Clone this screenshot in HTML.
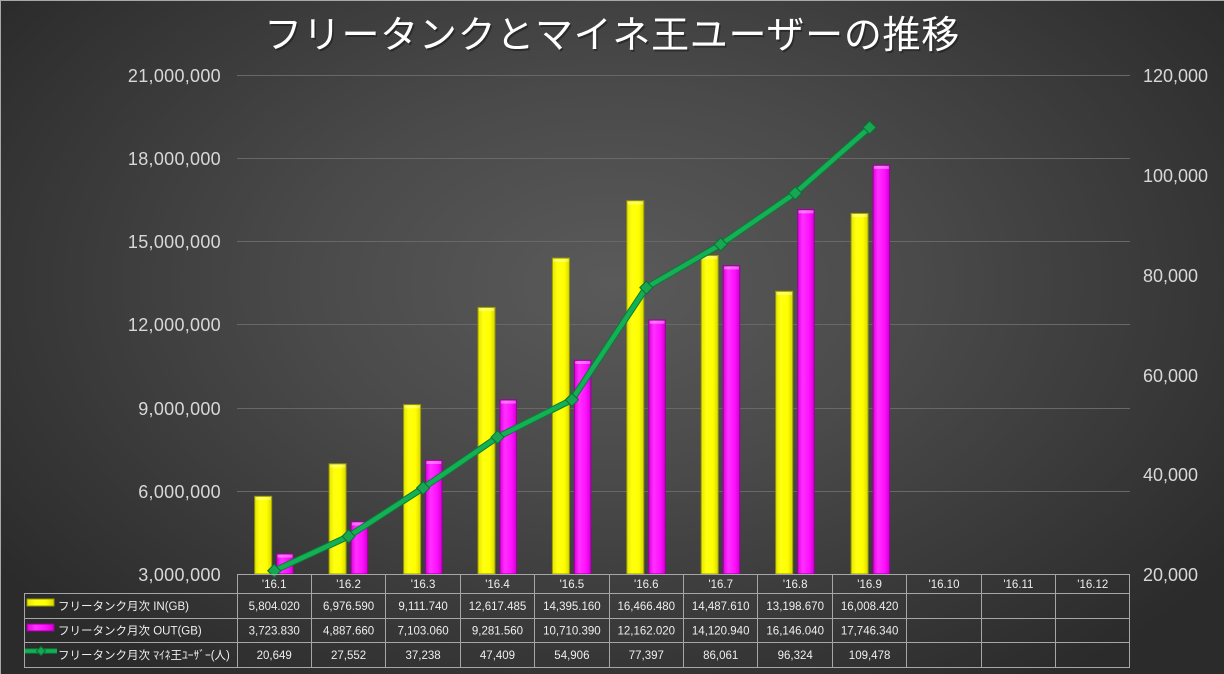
<!DOCTYPE html>
<html><head><meta charset="utf-8"><style>
html,body{margin:0;padding:0;background:#2c2c2c;}
#c{position:relative;width:1224px;height:674px;overflow:hidden;
background:radial-gradient(ellipse 62% 72% at 50% 42%, #5a5a5a 0%, #4a4a4a 40%, #2b2b2b 100%);}
svg{position:absolute;left:0;top:0;}
</style></head><body><div id="c">
<svg width="1224" height="674" viewBox="0 0 1224 674" xmlns="http://www.w3.org/2000/svg">
<defs>
<linearGradient id="gy" x1="0" y1="0" x2="1" y2="0">
<stop offset="0" stop-color="#e6e600"/><stop offset="0.3" stop-color="#ffff10"/><stop offset="0.7" stop-color="#ffff00"/><stop offset="1" stop-color="#d8d800"/></linearGradient>
<linearGradient id="gm" x1="0" y1="0" x2="1" y2="0">
<stop offset="0" stop-color="#e000e0"/><stop offset="0.3" stop-color="#ff30ff"/><stop offset="0.7" stop-color="#ff10ff"/><stop offset="1" stop-color="#d000d0"/></linearGradient>
</defs>
<line x1="0" y1="0.5" x2="1224" y2="0.5" stroke="#a8a8a8" stroke-width="1"/>
<line x1="0.5" y1="0" x2="0.5" y2="674" stroke="#a8a8a8" stroke-width="1"/>
<!-- title -->
<text x="612" y="48" text-anchor="middle" font-family="'Noto Sans CJK JP', sans-serif" font-size="38" letter-spacing="0.7" fill="#222" opacity="0.7" transform="translate(1.5,2)">フリータンクとマイネ王ユーザーの推移</text>
<text x="612" y="48" text-anchor="middle" font-family="'Noto Sans CJK JP', sans-serif" font-size="38" letter-spacing="0.7" fill="#ffffff">フリータンクとマイネ王ユーザーの推移</text>
<!-- gridlines -->
<g stroke="#686868" stroke-width="1">
<line x1="237" y1="75.5" x2="1130" y2="75.5"/>
<line x1="237" y1="158.5" x2="1130" y2="158.5"/>
<line x1="237" y1="241.5" x2="1130" y2="241.5"/>
<line x1="237" y1="324.5" x2="1130" y2="324.5"/>
<line x1="237" y1="408.5" x2="1130" y2="408.5"/>
<line x1="237" y1="491.5" x2="1130" y2="491.5"/>
</g>
<!-- left axis labels -->
<g font-family="'Liberation Sans', sans-serif" font-size="18" fill="#d8d8d8" text-anchor="end" letter-spacing="0.3">
<text x="221" y="82">21,000,000</text>
<text x="221" y="165">18,000,000</text>
<text x="221" y="248">15,000,000</text>
<text x="221" y="331">12,000,000</text>
<text x="221" y="415">9,000,000</text>
<text x="221" y="498">6,000,000</text>
<text x="221" y="581">3,000,000</text>
</g>
<!-- right axis labels -->
<g font-family="'Liberation Sans', sans-serif" font-size="18" fill="#d8d8d8" text-anchor="start">
<text x="1143" y="82">120,000</text>
<text x="1143" y="182">100,000</text>
<text x="1143" y="282">80,000</text>
<text x="1143" y="382">60,000</text>
<text x="1143" y="481">40,000</text>
<text x="1143" y="581">20,000</text>
</g>
<!-- bars -->
<g stroke-width="1">
<g fill="url(#gy)" stroke="#9a9a00">
<rect x="254.7" y="496.3" width="17" height="77.7"/>
<rect x="329.1" y="463.8" width="17" height="110.2"/>
<rect x="403.6" y="404.6" width="17" height="169.4"/>
<rect x="478.0" y="307.4" width="17" height="266.6"/>
<rect x="552.4" y="258.1" width="17" height="315.9"/>
<rect x="626.8" y="200.7" width="17" height="373.3"/>
<rect x="701.2" y="255.5" width="17" height="318.5"/>
<rect x="775.7" y="291.3" width="17" height="282.7"/>
<rect x="851.1" y="213.4" width="17" height="360.6"/>
</g>
<g fill="url(#gm)" stroke="#9a009a">
<rect x="276.7" y="553.9" width="16.5" height="20.1"/>
<rect x="351.1" y="521.7" width="16.5" height="52.3"/>
<rect x="425.6" y="460.3" width="16.5" height="113.7"/>
<rect x="500.0" y="399.9" width="16.5" height="174.1"/>
<rect x="574.4" y="360.3" width="16.5" height="213.7"/>
<rect x="648.8" y="320.0" width="16.5" height="254.0"/>
<rect x="723.2" y="265.7" width="16.5" height="308.3"/>
<rect x="797.7" y="209.6" width="16.5" height="364.4"/>
<rect x="873.1" y="165.2" width="16.5" height="408.8"/>
</g>
<g fill="#ffffff" opacity="0.35">
<rect x="255.5" y="497" width="15.5" height="3"/>
<rect x="329.9" y="464.5" width="15.5" height="3"/>
<rect x="404.4" y="405.3" width="15.5" height="3"/>
<rect x="478.8" y="308.1" width="15.5" height="3"/>
<rect x="553.2" y="258.8" width="15.5" height="3"/>
<rect x="627.6" y="201.4" width="15.5" height="3"/>
<rect x="702.0" y="256.2" width="15.5" height="3"/>
<rect x="776.5" y="292" width="15.5" height="3"/>
<rect x="851.9" y="214.1" width="15.5" height="3"/>
<rect x="277.5" y="554.6" width="15" height="3"/>
<rect x="351.9" y="522.4" width="15" height="3"/>
<rect x="426.4" y="461" width="15" height="3"/>
<rect x="500.8" y="400.6" width="15" height="3"/>
<rect x="575.2" y="361" width="15" height="3"/>
<rect x="649.6" y="320.7" width="15" height="3"/>
<rect x="724.0" y="266.4" width="15" height="3"/>
<rect x="798.5" y="210.3" width="15" height="3"/>
<rect x="873.9" y="165.9" width="15" height="3"/>
</g>
</g>
<!-- line -->
<polyline fill="none" stroke="#0b7a38" stroke-width="6.5" stroke-linejoin="round" points="274.2,570.8 348.6,536.3 423.1,488.0 497.5,437.2 571.9,399.8 646.3,287.6 720.7,244.4 795.2,193.1 869.6,127.5"/>
<polyline fill="none" stroke="#14b055" stroke-width="4.5" stroke-linejoin="round" points="274.2,570.8 348.6,536.3 423.1,488.0 497.5,437.2 571.9,399.8 646.3,287.6 720.7,244.4 795.2,193.1 869.6,127.5"/>
<g fill="#17a752" stroke="#0a7034" stroke-width="1">
<polygon points="274.2,564.3 280.7,570.8 274.2,577.3 267.7,570.8"/>
<polygon points="348.6,529.8 355.1,536.3 348.6,542.8 342.1,536.3"/>
<polygon points="423.1,481.5 429.6,488.0 423.1,494.5 416.6,488.0"/>
<polygon points="497.5,430.7 504.0,437.2 497.5,443.7 491.0,437.2"/>
<polygon points="571.9,393.3 578.4,399.8 571.9,406.3 565.4,399.8"/>
<polygon points="646.3,281.1 652.8,287.6 646.3,294.1 639.8,287.6"/>
<polygon points="720.7,237.9 727.2,244.4 720.7,250.9 714.2,244.4"/>
<polygon points="795.2,186.6 801.7,193.1 795.2,199.6 788.7,193.1"/>
<polygon points="869.6,121.0 876.1,127.5 869.6,134.0 863.1,127.5"/>
</g>
<!-- table -->
<g stroke="#a6a6a6" stroke-width="1" fill="none">
<line x1="237" y1="574.5" x2="1130" y2="574.5"/>
<line x1="24" y1="593.5" x2="1130" y2="593.5"/>
<line x1="24" y1="618.5" x2="1130" y2="618.5"/>
<line x1="24" y1="642.5" x2="1130" y2="642.5"/>
<line x1="24" y1="667.5" x2="1130" y2="667.5"/>
<line x1="24.5" y1="593" x2="24.5" y2="668"/>
<line x1="237.5" y1="574" x2="237.5" y2="668"/>
<line x1="311.5" y1="574" x2="311.5" y2="668"/>
<line x1="385.5" y1="574" x2="385.5" y2="668"/>
<line x1="460.5" y1="574" x2="460.5" y2="668"/>
<line x1="534.5" y1="574" x2="534.5" y2="668"/>
<line x1="609.5" y1="574" x2="609.5" y2="668"/>
<line x1="683.5" y1="574" x2="683.5" y2="668"/>
<line x1="757.5" y1="574" x2="757.5" y2="668"/>
<line x1="832.5" y1="574" x2="832.5" y2="668"/>
<line x1="906.5" y1="574" x2="906.5" y2="668"/>
<line x1="981.5" y1="574" x2="981.5" y2="668"/>
<line x1="1055.5" y1="574" x2="1055.5" y2="668"/>
<line x1="1129.5" y1="574" x2="1129.5" y2="668"/>
</g>
<g font-family="'Liberation Sans', sans-serif" font-size="11.5" fill="#eeeeee" text-anchor="middle">
<text x="274.2" y="588">'16.1</text>
<text x="348.6" y="588">'16.2</text>
<text x="423.1" y="588">'16.3</text>
<text x="497.5" y="588">'16.4</text>
<text x="571.9" y="588">'16.5</text>
<text x="646.3" y="588">'16.6</text>
<text x="720.7" y="588">'16.7</text>
<text x="795.2" y="588">'16.8</text>
<text x="869.6" y="588">'16.9</text>
<text x="944.0" y="588">'16.10</text>
<text x="1018.4" y="588">'16.11</text>
<text x="1092.8" y="588">'16.12</text>

<text x="274.2" y="610">5,804.020</text>
<text x="348.6" y="610">6,976.590</text>
<text x="423.1" y="610">9,111.740</text>
<text x="497.5" y="610">12,617.485</text>
<text x="571.9" y="610">14,395.160</text>
<text x="646.3" y="610">16,466.480</text>
<text x="720.7" y="610">14,487.610</text>
<text x="795.2" y="610">13,198.670</text>
<text x="869.6" y="610">16,008.420</text>

<text x="274.2" y="634.5">3,723.830</text>
<text x="348.6" y="634.5">4,887.660</text>
<text x="423.1" y="634.5">7,103.060</text>
<text x="497.5" y="634.5">9,281.560</text>
<text x="571.9" y="634.5">10,710.390</text>
<text x="646.3" y="634.5">12,162.020</text>
<text x="720.7" y="634.5">14,120.940</text>
<text x="795.2" y="634.5">16,146.040</text>
<text x="869.6" y="634.5">17,746.340</text>

<text x="274.2" y="659">20,649</text>
<text x="348.6" y="659">27,552</text>
<text x="423.1" y="659">37,238</text>
<text x="497.5" y="659">47,409</text>
<text x="571.9" y="659">54,906</text>
<text x="646.3" y="659">77,397</text>
<text x="720.7" y="659">86,061</text>
<text x="795.2" y="659">96,324</text>
<text x="869.6" y="659">109,478</text>
</g>
<!-- legend keys -->
<rect x="27" y="599" width="27" height="7" fill="url(#gy)" stroke="#9a9a00" stroke-width="1"/>
<rect x="27" y="624" width="27" height="7" fill="url(#gm)" stroke="#9a009a" stroke-width="1"/>
<line x1="25" y1="651" x2="57" y2="651" stroke="#0b7a38" stroke-width="5.5"/>
<line x1="25" y1="651" x2="57" y2="651" stroke="#14b055" stroke-width="3.5"/>
<polygon points="41,646.5 45.5,651 41,655.5 36.5,651" fill="#17a752" stroke="#0a7034" stroke-width="1"/>
<g font-family="'Liberation Sans', 'Noto Sans CJK JP', sans-serif" font-size="11.5" fill="#eeeeee">
<text x="58" y="610">フリータンク月次 IN(GB)</text>
<text x="58" y="634.5">フリータンク月次 OUT(GB)</text>
<text x="58" y="659">フリータンク月次 ﾏｲﾈ王ﾕｰｻﾞｰ(人)</text>
</g>
</svg>
</div></body></html>
